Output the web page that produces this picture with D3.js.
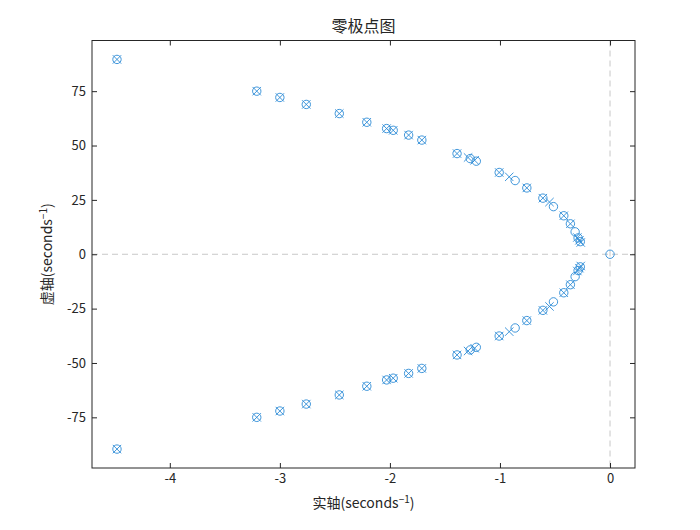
<!DOCTYPE html>
<html>
<head>
<meta charset="utf-8">
<script src="https://cdn.jsdelivr.net/npm/d3@7"></script>
<style>
	body { margin: 0; background: #fff; }
	svg text { font-family: "Noto Sans CJK SC", "Noto Sans", sans-serif; fill: #262626; }
	.axis path { display: none; }
	.axis line { stroke: #262626; }
	.axis text { font-size: 13px; }
</style>
</head>
<body>
<div id="chart"></div>
<script>
// poles (x markers): real / imaginary parts
var poleRe = [-4.48, -3.21, -3.00, -2.76, -2.46, -2.21, -2.03, -1.97, -1.83, -1.71, -1.39, -1.29, -1.23, -1.007, -0.916, -0.756, -0.61, -0.55, -0.42, -0.36, -0.297, -0.278, -0.266,
	-4.48, -3.21, -3.00, -2.76, -2.46, -2.21, -2.03, -1.97, -1.83, -1.71, -1.39, -1.29, -1.23, -1.007, -0.916, -0.756, -0.61, -0.55, -0.42, -0.36, -0.297, -0.278, -0.266];
var poleIm = [89.6, 75.0, 72.1, 68.9, 64.7, 60.7, 57.8, 57.0, 54.8, 52.5, 46.3, 44.5, 43.2, 37.6, 35.6, 30.5, 25.8, 24.0, 17.7, 14.0, 7.7, 6.4, 5.4,
	-89.6, -75.0, -72.1, -68.9, -64.7, -60.7, -57.8, -57.0, -54.8, -52.5, -46.3, -44.5, -43.2, -37.6, -35.6, -30.5, -25.8, -24.0, -17.7, -14.0, -7.7, -6.4, -5.4];

// zeros (o markers)
var zeroRe = [-4.48, -3.21, -3.00, -2.76, -2.46, -2.21, -2.03, -1.97, -1.83, -1.71, -1.39, -1.27, -1.215, -1.007, -0.862, -0.756, -0.61, -0.514, -0.42, -0.36, -0.317, -0.29, -0.27,
	-4.48, -3.21, -3.00, -2.76, -2.46, -2.21, -2.03, -1.97, -1.83, -1.71, -1.39, -1.27, -1.215, -1.007, -0.862, -0.756, -0.61, -0.514, -0.42, -0.36, -0.317, -0.29, -0.27, 0];
var zeroIm = [89.6, 75.0, 72.1, 68.9, 64.7, 60.7, 57.8, 57.0, 54.8, 52.5, 46.3, 44.0, 42.8, 37.6, 33.9, 30.5, 25.8, 21.9, 17.7, 14.0, 10.3, 7.5, 5.8,
	-89.6, -75.0, -72.1, -68.9, -64.7, -60.7, -57.8, -57.0, -54.8, -52.5, -46.3, -44.0, -42.8, -37.6, -33.9, -30.5, -25.8, -21.9, -17.7, -14.0, -10.3, -7.5, -5.8, 0];

var xTicks = [-4, -3, -2, -1, 0];
var yTicks = [-75, -50, -25, 0, 25, 50, 75];
var xDomain = [-4.707, 0.227];
var yDomain = [-98.3, 98.3];

var markColor = "#2a8ad6";
var W = 700, H = 530;
var margin = {left: 92, right: 65, top: 40.5, bottom: 62};

var xScale = d3.scaleLinear()
	.domain(xDomain)
	.range([margin.left, W - margin.right])
;
var yScale = d3.scaleLinear()
	.domain(yDomain)
	.range([H - margin.bottom, margin.top])
;

var svg = d3.select("#chart")
	.append("svg")
	.attr("width", W)
	.attr("height", H)
;

/*
	Dashed zero lines
*/
svg.append("line")
	.attr("x1", xScale(0)).attr("x2", xScale(0))
	.attr("y1", yScale.range()[1]).attr("y2", yScale.range()[0])
	.attr("stroke", "#c8c8c8").attr("stroke-dasharray", "6,4")
;
svg.append("line")
	.attr("x1", xScale.range()[0]).attr("x2", xScale.range()[1])
	.attr("y1", yScale(0)).attr("y2", yScale(0))
	.attr("stroke", "#c8c8c8").attr("stroke-dasharray", "6,4")
;

/*
	Axes, ticks pointing inward on all four sides
*/
svg.append("g")
	.attr("class", "axis")
	.attr("transform", "translate(0," + yScale.range()[0] + ")")
	.call(d3.axisBottom(xScale).tickValues(xTicks).tickSizeInner(-5).tickSizeOuter(0).tickPadding(6)
		.tickFormat(function(d) { return String(d); }))
;
svg.append("g")
	.attr("class", "axis")
	.attr("transform", "translate(0," + yScale.range()[1] + ")")
	.call(d3.axisTop(xScale).tickValues(xTicks).tickSizeInner(-5).tickSizeOuter(0).tickFormat(""))
;
svg.append("g")
	.attr("class", "axis")
	.attr("transform", "translate(" + xScale.range()[0] + ",0)")
	.call(d3.axisLeft(yScale).tickValues(yTicks).tickSizeInner(-5).tickSizeOuter(0).tickPadding(6)
		.tickFormat(function(d) { return String(d); }))
;
svg.append("g")
	.attr("class", "axis")
	.attr("transform", "translate(" + xScale.range()[1] + ",0)")
	.call(d3.axisRight(yScale).tickValues(yTicks).tickSizeInner(-5).tickSizeOuter(0).tickFormat(""))
;

svg.append("rect")
	.attr("x", xScale.range()[0])
	.attr("y", yScale.range()[1])
	.attr("width", xScale.range()[1] - xScale.range()[0])
	.attr("height", yScale.range()[0] - yScale.range()[1])
	.attr("fill", "none")
	.attr("stroke", "#262626")
;

/*
	Zeros (circles) and poles (crosses)
*/
var zeros = zeroRe.map(function(d, i) { return {re: d, im: zeroIm[i]}; });
var poles = poleRe.map(function(d, i) { return {re: d, im: poleIm[i]}; });

svg.append("g").selectAll("circle")
	.data(zeros)
	.enter()
	.append("circle")
	.attr("cx", function(d) { return xScale(d.re); })
	.attr("cy", function(d) { return yScale(d.im); })
	.attr("r", 4.2)
	.attr("fill", "none")
	.attr("stroke", markColor)
	.attr("stroke-width", 0.9)
;

var s = 4.2;
svg.append("g").selectAll("path")
	.data(poles)
	.enter()
	.append("path")
	.attr("d", function(d) {
		var cx = xScale(d.re), cy = yScale(d.im);
		return "M" + (cx - s) + "," + (cy - s) + "L" + (cx + s) + "," + (cy + s) +
			"M" + (cx - s) + "," + (cy + s) + "L" + (cx + s) + "," + (cy - s);
	})
	.attr("fill", "none")
	.attr("stroke", markColor)
	.attr("stroke-width", 0.9)
;

/*
	Title and axis labels
*/
var midX = (xScale.range()[0] + xScale.range()[1]) / 2;
svg.append("text")
	.attr("x", midX)
	.attr("y", 32)
	.attr("text-anchor", "middle")
	.style("font-size", "16px")
	.text("零极点图")
;

var xl = svg.append("text")
	.attr("x", midX)
	.attr("y", 508)
	.attr("text-anchor", "middle")
	.style("font-size", "14px")
;
xl.append("tspan").text("实轴(seconds");
xl.append("tspan").attr("dy", -5).style("font-size", "10px").text("−1");
xl.append("tspan").attr("dy", 5).text(")");

var yl = svg.append("text")
	.attr("transform", "translate(52," + yScale(0) + ") rotate(-90)")
	.attr("text-anchor", "middle")
	.style("font-size", "14px")
;
yl.append("tspan").text("虚轴(seconds");
yl.append("tspan").attr("dy", -5).style("font-size", "10px").text("−1");
yl.append("tspan").attr("dy", 5).text(")");
</script>
</body>
</html>
